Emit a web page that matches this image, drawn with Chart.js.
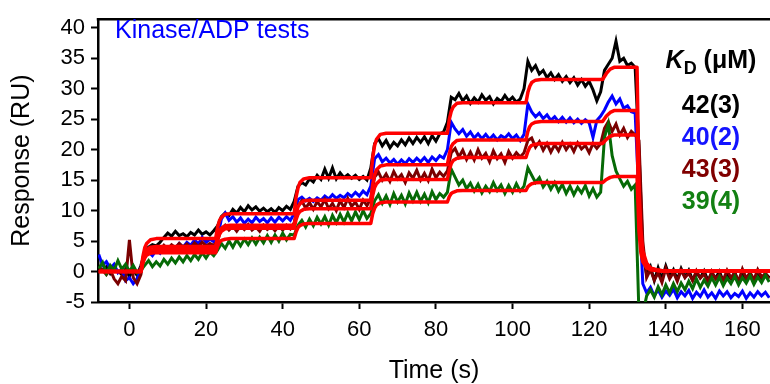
<!DOCTYPE html>
<html>
<head>
<meta charset="utf-8">
<script src="https://cdn.jsdelivr.net/npm/chart.js@4.4.0/dist/chart.umd.min.js"></script>
<style>
html, body { margin: 0; padding: 0; background: #fff; }
#chart { display: block; }
</style>
</head>
<body>
<canvas id="chart" width="770" height="384"></canvas>
<script>
// traces are sampled once per second, starting at t = -8 s
var t0 = -8, dt = 1;

var black = [
    0.5, 0.2, 0.8, -0.3, 0.6, 0.1, -0.5, 0.4, -0.8, 0.2, -0.6,
    1.0, 3.2, 4.0, 4.4, 4.2, 4.8, 5.6, 6.3, 5.8, 6.6, 5.9, 6.2, 5.7, 6.4, 6.0, 6.8, 6.1, 6.5, 6.0, 6.7,
    7.5, 9.0, 9.6, 9.2, 10.2, 9.6, 10.5, 9.8, 10.8, 10.1, 10.6, 9.9, 10.4, 9.8, 10.3, 9.7, 10.5, 10.0, 10.7, 10.2,
    11.5, 14.0, 14.6, 14.2, 15.2, 14.7, 15.8, 15.1, 16.8, 15.3, 17.0, 15.2, 16.2, 15.4, 15.9, 15.3, 15.8, 15.1, 15.6, 15.0,
    17.0, 21.0, 21.8, 20.6, 21.5, 20.3, 21.2, 20.6, 21.6, 20.8, 21.9, 21.0, 22.0, 21.2, 22.1, 21.0, 22.3, 21.4, 22.6, 22.9,
    24.5, 28.6, 28.2, 29.2, 28.0, 28.8, 27.6, 28.5, 27.8, 29.0, 28.1, 28.7, 27.5, 28.4, 27.9, 28.9, 28.0, 28.6, 27.8, 28.3,
    30.0, 34.5, 33.0, 33.8, 32.4, 33.0, 31.8, 32.6, 31.5, 32.3, 31.2, 32.0, 31.0, 31.8, 30.6, 31.5, 30.4, 31.2, 29.8, 28.0,
    29.5, 33.0, 34.0, 35.0, 37.8, 34.5, 35.0, 33.8, 34.2, 33.5,
    20, 3, -0.5, 0.8, -1.5, 0.6, -1.2, 0.9, -0.8, 0.3, -1.3, 0.5, -0.9, 0.2, -1.4, -0.2, -1.0, 0.1,
    -1.5, -0.3, -1.1, 0.0, -1.6, -0.4, -1.2, -0.1, -1.7, -0.5, -1.3, -0.2, -1.5, -0.6, -1.2, -0.3, -1.0
];
var blue = [
    2.8, 1.0, 1.6, 0.5, 1.2, -0.2, 0.4, -1.5, -1.0, -2.0, -1.2,
    0.5, 2.8, 3.2, 2.6, 3.5, 3.0, 3.9, 3.4, 4.2, 3.8, 4.6, 4.0, 4.8, 4.3, 5.2, 4.5, 5.6, 4.8, 5.3, 4.9,
    5.5, 8.6, 9.6, 8.4, 9.0, 8.1, 8.8, 7.9, 8.6, 8.0, 8.9, 8.2, 8.7, 8.0, 8.8, 8.1, 8.9, 8.3, 9.0, 8.4,
    9.5, 11.8, 12.2, 11.6, 12.0, 11.5, 12.1, 11.7, 12.4, 11.9, 12.6, 12.0, 12.5, 12.1, 12.8, 12.3, 13.0, 12.4, 13.2, 12.6,
    14.0, 18.5, 19.2, 18.0, 18.6, 17.8, 18.4, 17.6, 18.3, 17.7, 18.5, 17.9, 18.6, 18.0, 18.7, 17.9, 18.8, 18.2, 19.0, 18.6,
    20.0, 24.5, 23.4, 22.6, 23.3, 22.2, 22.9, 21.9, 22.6, 21.8, 22.5, 21.7, 22.4, 21.6, 22.3, 21.9, 22.6, 21.8, 22.4, 21.5,
    22.5, 27.5, 26.2, 25.4, 26.0, 25.1, 25.7, 24.8, 25.4, 24.6, 25.3, 24.5, 25.2, 24.4, 25.0, 24.3, 24.9, 24.4, 22.0, 24.8,
    25.5, 26.5, 27.8, 28.8, 27.5, 28.3, 26.8, 27.2, 26.2, 26.0,
    12, -2.0, -3.5, -2.6, -4.0, -3.0, -4.2, -3.2, -3.9, -2.9, -4.3, -3.3, -4.0, -3.1, -4.4, -3.4, -4.1, -3.0,
    -4.2, -3.5, -4.4, -3.2, -4.0, -3.3, -4.3, -3.6, -4.1, -3.2, -4.4, -3.5, -4.2, -3.3, -4.0, -3.4, -4.3
];
var darkred = [
    0.8, 0.2, -0.5, 0.3, -1.2, -2.0, -0.8, -1.5, 5.2, -1.0, -2.0,
    -0.5, 3.0, 3.8, 3.3, 4.1, 3.5, 4.3, 3.7, 4.4, 3.9, 4.6, 4.0, 4.5, 3.9, 4.7, 4.1, 4.8, 4.2, 4.6, 4.3,
    5.0, 7.0, 7.6, 6.8, 7.4, 6.6, 7.5, 6.9, 7.7, 6.8, 7.3, 6.6, 7.6, 6.9, 7.4, 6.7, 7.5, 6.8, 7.6, 7.0,
    8.0, 10.8, 11.6, 10.4, 11.3, 10.2, 11.5, 10.6, 11.8, 10.3, 11.2, 10.0, 11.6, 10.5, 12.0, 10.7, 11.4, 10.2, 11.7, 10.8,
    12.0, 15.5, 16.3, 15.0, 16.0, 14.8, 16.4, 15.2, 15.9, 14.6, 16.2, 15.3, 16.6, 15.0, 16.1, 14.9, 16.8, 15.4, 16.3, 15.6,
    16.5, 19.5, 20.2, 18.8, 19.9, 18.4, 19.6, 18.3, 20.0, 18.6, 19.4, 18.0, 19.8, 18.5, 19.3, 17.9, 19.7, 18.6, 19.5, 18.8,
    19.5, 21.5, 21.9, 20.4, 21.3, 19.9, 21.0, 19.6, 20.8, 19.8, 21.2, 20.0, 20.9, 19.7, 21.1, 20.1, 20.7, 19.5, 21.0, 20.2,
    21.0, 23.5, 24.6, 23.0, 24.2, 22.4, 23.5, 22.0, 23.0, 22.4,
    21.5, 5, -1.0, 0.3, -1.4, -0.2, -1.8, 0.5, -1.2, -0.1, -1.6, 0.2, -1.0, -0.3, -1.5, 0.1, -1.1, -0.4,
    -1.7, 0.0, -1.2, -0.5, -1.4, 0.2, -1.0, -0.3, -1.6, 0.4, -1.1, -0.2, -1.3, 0.3, -0.9, -0.4, -1.2
];
var green = [
    0.5, 1.5, -0.3, 1.0, 0.2, 1.8, 0.4, 1.2, 0.0, 1.0, -0.2,
    0.2, 1.0, 1.8, 0.8, 1.6, 0.9, 2.0, 1.2, 2.2, 1.4, 2.4, 1.6, 2.6, 1.8, 2.8, 2.0, 3.1, 2.2, 3.2, 2.6,
    3.5, 4.6, 3.8, 5.0, 4.0, 5.2, 4.2, 5.3, 4.4, 5.5, 4.5, 5.6, 4.7, 5.9, 4.8, 6.0, 5.0, 6.3, 5.2, 6.1,
    6.0, 7.6, 8.4, 7.3, 8.6, 7.5, 8.9, 7.8, 9.0, 7.6, 9.2, 8.0, 9.4, 8.1, 9.6, 8.3, 9.8, 8.5, 10.0, 8.7,
    9.5, 11.6, 12.6, 11.2, 12.4, 11.0, 12.8, 11.4, 12.5, 11.1, 12.9, 11.6, 13.0, 11.5, 12.7, 11.3, 13.1, 11.8, 12.8, 12.2,
    13.0, 16.8, 15.5, 14.2, 15.0, 13.6, 14.5, 13.2, 14.3, 12.9, 14.0, 13.1, 14.6, 13.3, 14.2, 12.8, 14.1, 13.0, 14.4, 13.2,
    14.0, 17.0, 15.8, 14.6, 15.4, 13.9, 14.8, 13.5, 14.6, 13.2, 14.3, 12.8, 14.0, 12.6, 13.8, 12.9, 14.1, 12.4, 13.6, 12.2,
    13.0, 22.0, 24.2, 19.0, 16.5, 15.2, 14.0, 14.8, 13.5, 14.2,
    -7, -7, -4.0, -3.0, -4.2, -2.5, -3.8, -2.2, -3.5, -2.0, -3.3, -1.9, -3.0, -1.6, -2.8, -1.2, -2.6, -1.4,
    -2.4, -1.0, -2.2, -0.9, -2.3, -1.1, -2.0, -0.8, -2.2, -1.0, -1.9, -0.7, -2.1, -0.9, -1.8, -0.6, -1.7
];

// fitted curves (red), read at these times
var fitTimes = [-8,
    3, 3.5, 4, 4.5, 5.5, 7,
    22.5, 23, 23.5, 24, 25, 26.5,
    43, 43.5, 44, 44.5, 45.5, 47,
    63, 63.5, 64, 64.5, 65.5, 67,
    83, 83.5, 84, 84.5, 85.5, 87,
    103.5, 104, 104.5, 105, 106, 107.5,
    123.5, 124.5, 125.5, 126.5,
    132.5, 133, 133.5, 134, 135, 136, 137.5, 139.5, 168];
var fitBlack = [0,
    0, 2.4, 3.9, 4.6, 5.2, 5.4,
    5.4, 7.2, 8.35, 8.9, 9.4, 9.5,
    9.5, 12.2, 13.7, 14.6, 15.2, 15.4,
    15.4, 18.7, 20.7, 21.7, 22.5, 22.7,
    22.7, 25.0, 26.3, 27.0, 27.6, 27.7,
    27.7, 29.4, 30.4, 31.0, 31.4, 31.5,
    31.5, 32.5, 33.2, 33.5,
    33.5, 14.0, 6.8, 3.4, 1.4, 0.6, 0.3, 0.1, 0.1];
var fitBlue = [0,
    0, 1.85, 2.95, 3.5, 4.0, 4.1,
    4.1, 5.7, 6.6, 7.1, 7.5, 7.6,
    7.6, 9.4, 10.6, 11.1, 11.6, 11.7,
    11.7, 14.3, 15.9, 16.7, 17.3, 17.5,
    17.5, 19.3, 20.5, 21.0, 21.5, 21.6,
    21.6, 23.0, 23.8, 24.2, 24.5, 24.6,
    24.6, 25.5, 26.1, 26.4,
    26.4, 11.0, 5.3, 2.7, 1.1, 0.5, 0.25, 0.1, 0.1];
var fitDarkred = [0,
    0, 1.6, 2.6, 3.1, 3.5, 3.6,
    3.6, 5.2, 6.1, 6.6, 7.0, 7.1,
    7.1, 8.5, 9.4, 9.85, 10.2, 10.3,
    10.3, 12.5, 13.8, 14.4, 15.0, 15.1,
    15.1, 16.7, 17.7, 18.2, 18.6, 18.7,
    18.7, 19.7, 20.4, 20.7, 20.9, 21.0,
    21.0, 21.7, 22.2, 22.4,
    22.4, 9.4, 4.5, 2.3, 0.9, 0.4, 0.2, 0.1, 0.1];
var fitGreen = [0,
    0, 1.4, 2.2, 2.7, 3.0, 3.1,
    3.1, 4.1, 4.8, 5.1, 5.3, 5.4,
    5.4, 6.5, 7.2, 7.55, 7.8, 7.9,
    7.9, 9.5, 10.4, 10.9, 11.3, 11.4,
    11.4, 12.3, 12.8, 13.0, 13.25, 13.3,
    13.3, 13.9, 14.2, 14.4, 14.55, 14.6,
    14.6, 15.1, 15.45, 15.6,
    15.6, 6.6, 3.1, 1.6, 0.6, 0.3, 0.15, 0.05, 0.05];

var panelTitle = 'Kinase/ADP tests';
var kdValues = ['42(3)', '40(2)', '43(3)', '39(4)'];
var kdColors = ['#000000', '#1414ff', '#800000', '#138013'];

function series(values) {
    return values.map(function (v, i) { return {x: t0 + i * dt, y: v}; });
}
function fitSeries(values) {
    return fitTimes.map(function (t, i) { return {x: t, y: values[i]}; });
}

function trace(values, color) {
    return {data: series(values), borderColor: color, borderWidth: 3, borderJoinStyle: 'miter', clip: 0};
}
function fit(values) {
    return {data: fitSeries(values), borderColor: '#ff0000', borderWidth: 3.5, borderJoinStyle: 'round', clip: 0};
}

var decor = {
    id: 'decor',
    afterDraw: function (chart) {
        var ctx = chart.ctx, a = chart.chartArea;
        ctx.save();
        ctx.strokeStyle = '#000';
        ctx.lineWidth = 2.5;
        ctx.beginPath();
        ctx.moveTo(a.left - 1.25, a.top);
        ctx.lineTo(chart.width, a.top);
        ctx.stroke();

        ctx.textBaseline = 'alphabetic';
        ctx.fillStyle = '#0000ff';
        ctx.font = '25px "Liberation Sans"';
        ctx.fillText(panelTitle, 115, 38);

        // K_D (uM)
        var cx = 711;
        ctx.fillStyle = '#000';
        ctx.font = 'italic bold 25px "Liberation Sans"';
        var wK = ctx.measureText('K').width;
        ctx.font = 'bold 18px "Liberation Sans"';
        var wD = ctx.measureText('D').width;
        ctx.font = 'bold 25px "Liberation Sans"';
        var wU = ctx.measureText(' (\u03bcM)').width;
        var x = cx - (wK + wD + wU) / 2;
        ctx.font = 'italic bold 25px "Liberation Sans"';
        ctx.fillText('K', x, 68);
        ctx.font = 'bold 18px "Liberation Sans"';
        ctx.fillText('D', x + wK, 74);
        ctx.font = 'bold 25px "Liberation Sans"';
        ctx.fillText(' (\u03bcM)', x + wK + wD, 68);

        ctx.textAlign = 'center';
        for (var i = 0; i < kdValues.length; i++) {
            ctx.fillStyle = kdColors[i];
            ctx.fillText(kdValues[i], cx, 113 + i * 32);
        }
        ctx.restore();
    }
};

new Chart(document.getElementById('chart'), {
    type: 'line',
    data: {
        datasets: [
            fit(fitBlack), fit(fitBlue), fit(fitDarkred), fit(fitGreen),
            trace(green, '#066a06'),
            trace(darkred, '#7a0000'),
            trace(blue, '#0000ff'),
            trace(black, '#000000')
        ]
    },
    options: {
        responsive: false,
        animation: false,
        devicePixelRatio: 1,
        layout: {padding: {top: 14, left: 0, right: 0, bottom: 0}},
        elements: {point: {radius: 0}, line: {tension: 0}},
        plugins: {legend: {display: false}, tooltip: {enabled: false}},
        scales: {
            x: {
                type: 'linear',
                min: -8.2,
                max: 167.2,
                afterFit: function (s) { s.height = 82; },
                ticks: {stepSize: 20, includeBounds: false, autoSkip: false, maxRotation: 0,
                    color: '#000', padding: 8, font: {family: 'Liberation Sans', size: 22}},
                grid: {drawOnChartArea: false, tickLength: 7, tickWidth: 2, color: '#000'},
                border: {color: '#000', width: 2.5},
                title: {display: true, text: 'Time (s)', color: '#000', padding: 0,
                    font: {family: 'Liberation Sans', size: 25, lineHeight: 1}}
            },
            y: {
                min: -5,
                max: 41.4,
                afterFit: function (s) { s.width = 98; },
                ticks: {stepSize: 5, includeBounds: false, color: '#000', padding: 6,
                    font: {family: 'Liberation Sans', size: 22}},
                grid: {drawOnChartArea: false, tickLength: 7, tickWidth: 2, color: '#000'},
                border: {color: '#000', width: 2.5},
                title: {display: true, text: 'Response (RU)', color: '#000', padding: {top: 7, bottom: 0},
                    font: {family: 'Liberation Sans', size: 25, lineHeight: 1.2}}
            }
        }
    },
    plugins: [decor]
});
</script>
</body>
</html>
